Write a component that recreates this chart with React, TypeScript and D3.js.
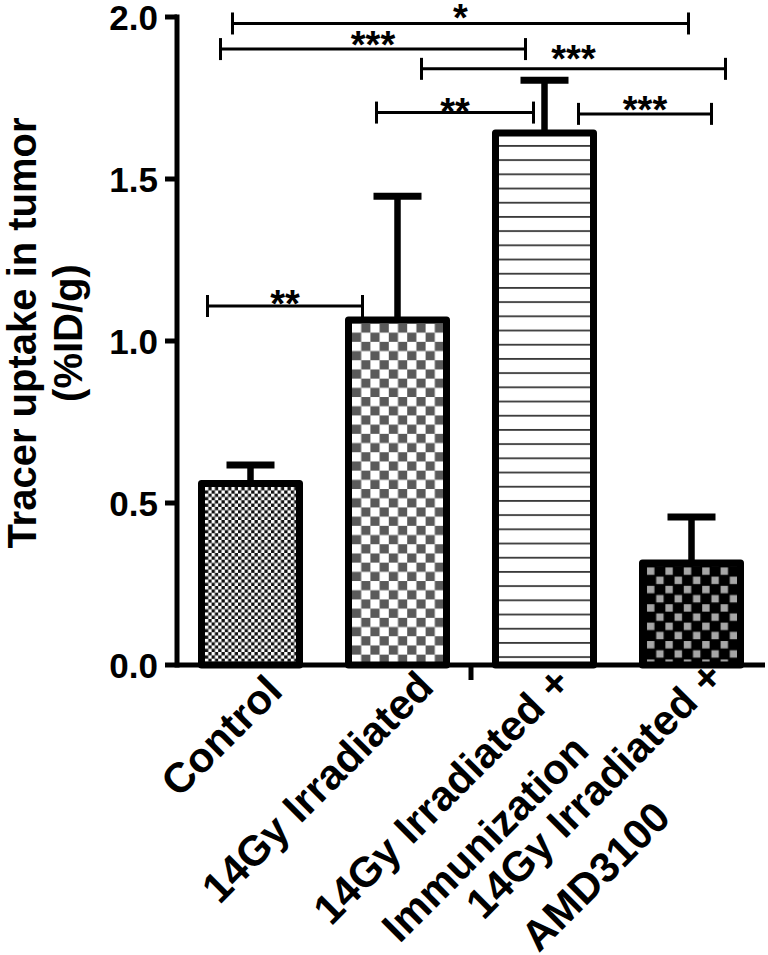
import React from 'react';
import * as d3 from 'd3';

const categories = ['Control', '14Gy Irradiated', '14Gy Irradiated + Immunization', '14Gy Irradiated + AMD3100'];
const labelLines = [['Control'], ['14Gy Irradiated'], ['14Gy Irradiated +', 'Immunization'], ['14Gy Irradiated +', 'AMD3100']];
const means = [0.56, 1.065, 1.642, 0.315];
const errors = [0.057, 0.382, 0.163, 0.142];
const yTicks = [0, 0.5, 1.0, 1.5, 2.0];
const sigFrom = [0, 0, 1, 1, 2, 0];
const sigTo = [3, 2, 3, 2, 3, 1];
const sigY = [1.98, 1.901, 1.84, 1.705, 1.701, 1.108];
const sigLabel = ['*', '***', '***', '**', '***', '**'];

// layout tweaks for brackets (pixels)
const sigFromOff = [-18, -30, 24, -21, 34, -43];
const sigToOff = [-3, -19, 34, -11, 20, -35];
const sigTextLift = [14.5, 13, 19, 9.5, 13, 11];
// layout tweaks for rotated labels (pixels, in rotated frame)
const labelEndS = [4, 10, 6, 14];
const labelT0 = [44, 44, 34, 34];
const line2StartOff = [0, 0, 36, 16];
const line2T = [0, 0, 95, 96];

const FONT = '"Liberation Sans", Arial, Helvetica, sans-serif';

function measure(text: string, size: number) {
  const c = document.createElement('canvas').getContext('2d');
  if (!c) return text.length * size * 0.55;
  c.font = `bold ${size}px ${FONT}`;
  return c.measureText(text).width;
}

export default function App() {
  const W = 768, H = 955;
  const x0 = 177, x1 = 765, yBase = 665, yTop = 17;
  const x = d3.scaleBand<string>().domain(categories).range([x0, x1]).paddingInner(1 / 3).paddingOuter(1 / 6);
  const y = d3.scaleLinear().domain([0, 2]).range([yBase, yTop]);
  const bw = x.bandwidth();
  const SW = 7;
  const xlFont = 42;

  const patterns = categories.map((c, i) => {
    const px = (x(c) as number) + SW / 2;
    const py = y(means[i]) + SW / 2;
    const id = `pat${i}`;
    if (i === 0) {
      return (
        <pattern key={id} id={id} patternUnits="userSpaceOnUse" x={px} y={py} width={6.6} height={6.6}>
          <rect width={6.6} height={6.6} fill="#111" />
          <rect x={0} y={0} width={3.3} height={3.3} fill="#fff" />
          <rect x={3.3} y={3.3} width={3.3} height={3.3} fill="#fff" />
        </pattern>
      );
    }
    if (i === 1) {
      return (
        <pattern key={id} id={id} patternUnits="userSpaceOnUse" x={px} y={py} width={18.4} height={18.4}>
          <rect width={18.4} height={18.4} fill="#fff" />
          <rect x={9.2} y={0} width={9.2} height={9.2} fill="#5a5a5a" />
          <rect x={0} y={9.2} width={9.2} height={9.2} fill="#5a5a5a" />
        </pattern>
      );
    }
    if (i === 2) {
      return (
        <pattern key={id} id={id} patternUnits="userSpaceOnUse" x={px} y={py} width={20} height={14.2}>
          <rect width={20} height={14.2} fill="#fff" />
          <rect x={0} y={8.5} width={20} height={1.8} fill="#3a3a3a" />
        </pattern>
      );
    }
    return (
      <pattern key={id} id={id} patternUnits="userSpaceOnUse" x={px} y={py} width={18.4} height={18.4}>
        <rect width={18.4} height={18.4} fill="#000" />
        <rect x={1} y={1} width={7.4} height={7.4} fill="#a6a6a6" />
        <rect x={10.2} y={10.2} width={7.4} height={7.4} fill="#a6a6a6" />
      </pattern>
    );
  });

  return (
    <svg width={W} height={H} viewBox={`0 0 ${W} ${H}`} style={{ display: 'block', position: 'absolute', left: 0, top: 0, background: '#fff' }}>
      <defs>{patterns}</defs>
      <rect x={0} y={0} width={W} height={H} fill="#fff" />

      {/* error bars */}
      {categories.map((c, i) => {
        const cx = (x(c) as number) + bw / 2;
        const yt = y(means[i] + errors[i]);
        return (
          <g key={`e${i}`}>
            <line x1={cx} x2={cx} y1={y(means[i])} y2={yt} stroke="#000" strokeWidth={6.5} />
            <line x1={cx - 24} x2={cx + 24} y1={yt} y2={yt} stroke="#000" strokeWidth={7} />
          </g>
        );
      })}

      {/* bars */}
      {categories.map((c, i) => (
        <rect key={`b${i}`} x={x(c) as number} y={y(means[i])} width={bw} height={yBase - y(means[i])}
          fill={`url(#pat${i})`} stroke="#000" strokeWidth={SW} strokeLinejoin="round" />
      ))}

      {/* axes */}
      <line x1={x0} x2={x0} y1={yTop - 2.5} y2={yBase + 2.5} stroke="#000" strokeWidth={5} />
      <line x1={x0} x2={x1} y1={yBase} y2={yBase} stroke="#000" strokeWidth={5} />
      {yTicks.map((t) => (
        <g key={`t${t}`}>
          <line x1={x0 - 12} x2={x0} y1={y(t)} y2={y(t)} stroke="#000" strokeWidth={5} />
          <text x={x0 - 19} y={y(t) + 12.5} textAnchor="end" fontFamily={FONT} fontWeight="bold" fontSize={35} fill="#000">
            {d3.format('.1f')(t)}
          </text>
        </g>
      ))}
      {/* middle x tick */}
      <line x1={(x0 + x1) / 2} x2={(x0 + x1) / 2} y1={yBase} y2={yBase + 15} stroke="#000" strokeWidth={5} />

      {/* y title */}
      <g transform={`translate(0,${333}) rotate(-90)`}>
        <text x={0} y={36} textAnchor="middle" fontFamily={FONT} fontWeight="bold" fontSize={40} fill="#000">Tracer uptake in tumor</text>
        <text x={0} y={82} textAnchor="middle" fontFamily={FONT} fontWeight="bold" fontSize={40} fill="#000">(%ID/g)</text>
      </g>

      {/* x labels */}
      {categories.map((c, i) => {
        const cx = (x(c) as number) + bw / 2;
        const lines = labelLines[i];
        const w1 = measure(lines[0], xlFont);
        const startS = labelEndS[i] - w1;
        return (
          <g key={`xl${i}`} transform={`translate(${cx},${yBase}) rotate(-45)`}>
            <text x={startS} y={labelT0[i]} textAnchor="start" fontFamily={FONT} fontWeight="bold" fontSize={xlFont} fill="#000">{lines[0]}</text>
            {lines.length > 1 && (
              <text x={startS + line2StartOff[i]} y={line2T[i]} textAnchor="start" fontFamily={FONT} fontWeight="bold" fontSize={xlFont} fill="#000">{lines[1]}</text>
            )}
          </g>
        );
      })}

      {/* significance brackets */}
      {sigLabel.map((lab, k) => {
        const xa = (x(categories[sigFrom[k]]) as number) + bw / 2 + sigFromOff[k];
        const xb = (x(categories[sigTo[k]]) as number) + bw / 2 + sigToOff[k];
        const yy = y(sigY[k]);
        const fs = 38;
        return (
          <g key={`s${k}`}>
            <line x1={xa} x2={xb} y1={yy} y2={yy} stroke="#000" strokeWidth={3} />
            <line x1={xa} x2={xa} y1={yy - 11} y2={yy + 11} stroke="#000" strokeWidth={3} />
            <line x1={xb} x2={xb} y1={yy - 11} y2={yy + 11} stroke="#000" strokeWidth={3} />
            <text x={(xa + xb) / 2} y={yy - sigTextLift[k] + 0.57 * fs} textAnchor="middle" fontFamily={FONT} fontWeight="bold" fontSize={fs} fill="#000">{lab}</text>
          </g>
        );
      })}
    </svg>
  );
}
